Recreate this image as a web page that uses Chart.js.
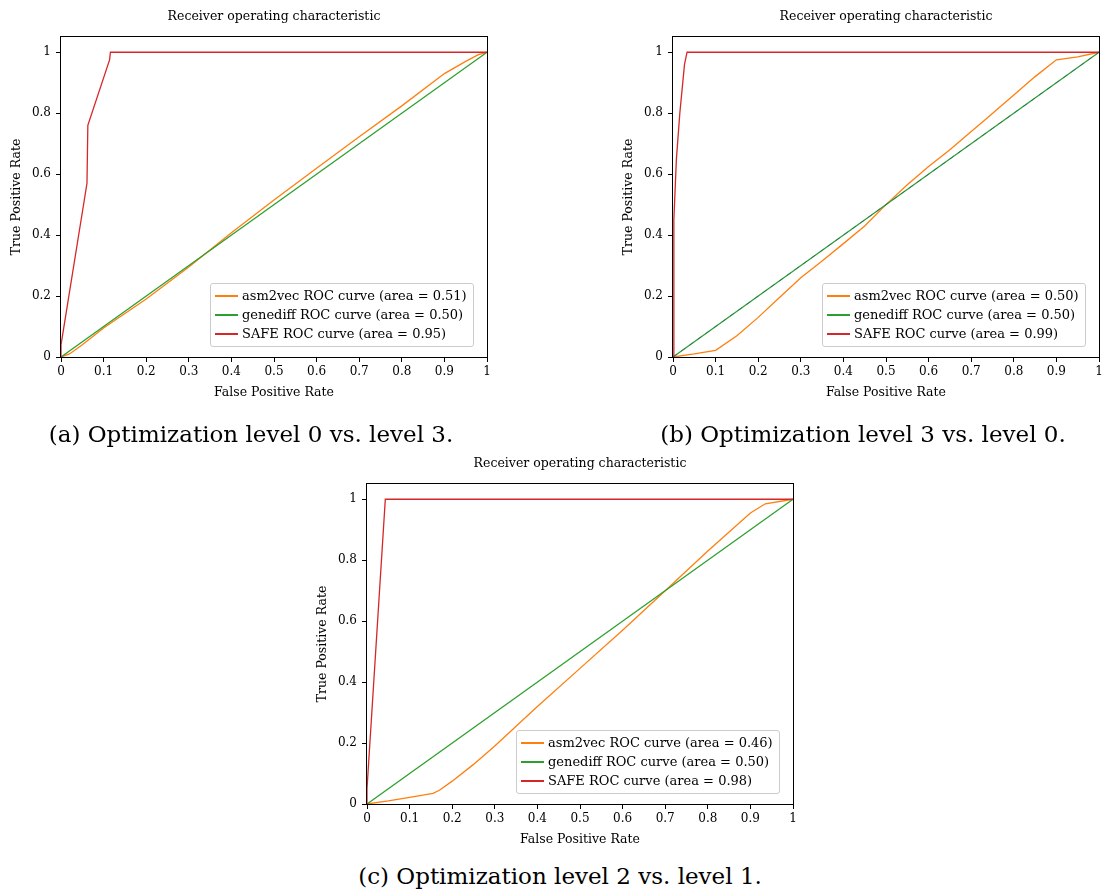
<!DOCTYPE html>
<html><head><meta charset="utf-8">
<script src="https://cdn.jsdelivr.net/npm/chart.js@4.4.0/dist/chart.umd.min.js"></script>
<style>
html,body{margin:0;padding:0;background:#fff;overflow:hidden;width:1102px;height:895px;position:relative;}
.wrap{position:absolute;width:500px;height:405px;}
.wrap canvas{position:absolute;left:0;top:0;}
.legend{position:absolute;border:1px solid #cccccc;border-radius:3px;background:rgba(255,255,255,0.8);padding:2px 6px 3px 4px;font-family:'DejaVu Serif';font-size:13px;color:#000;white-space:nowrap;}
.legend .row{height:19px;line-height:19px;display:flex;align-items:flex-start;}
.legend .sw{display:block;flex:none;width:23px;height:2px;margin-top:9px;margin-right:4px;}
.caption{position:absolute;font-family:'DejaVu Serif';font-size:23px;line-height:28px;color:#000;white-space:nowrap;transform:translateX(-50%);}
</style></head>
<body>
<div class="wrap" id="wa" style="left:0px;top:0px"><canvas id="ca" width="500" height="405"></canvas></div>
<div class="wrap" id="wb" style="left:612px;top:0px"><canvas id="cb" width="500" height="405"></canvas></div>
<div class="wrap" id="wc" style="left:306px;top:447px"><canvas id="cc" width="500" height="405"></canvas></div>
<div class="caption" style="left:251px;top:420px">(a) Optimization level 0 vs. level 3.</div>
<div class="caption" style="left:863px;top:420px">(b) Optimization level 3 vs. level 0.</div>
<div class="caption" style="left:560px;top:862px">(c) Optimization level 2 vs. level 1.</div>
<script>
// ---- data ----
const seriesNames = ['asm2vec', 'genediff', 'SAFE'];
const seriesColors = ['#ff7f0e', '#2ca02c', '#d62728'];
const chartTitle = 'Receiver operating characteristic';
const xAxisTitle = 'False Positive Rate';
const yAxisTitle = 'True Positive Rate';
const xTickValues = [0, 0.1, 0.2, 0.3, 0.4, 0.5, 0.6, 0.7, 0.8, 0.9, 1];
const xTickLabels = ['0', '0.1', '0.2', '0.3', '0.4', '0.5', '0.6', '0.7', '0.8', '0.9', '1'];
const yTickValues = [0, 0.2, 0.4, 0.6, 0.8, 1];
const yTickLabels = ['0', '0.2', '0.4', '0.6', '0.8', '1'];

// (a) level 0 vs level 3
const aucA = ['0.51', '0.50', '0.95'];
const asm2vecFprA = [0, 0.02, 0.05, 0.1, 0.2, 0.3, 0.4, 0.5, 0.6, 0.7, 0.8, 0.9, 0.95, 0.98, 1];
const asm2vecTprA = [0, 0.01, 0.04, 0.095, 0.19, 0.295, 0.408, 0.515, 0.619, 0.723, 0.824, 0.93, 0.97, 0.992, 1];
const genediffFprA = [0, 1];
const genediffTprA = [0, 1];
const safeFprA = [0, 0, 0.061, 0.063, 0.114, 0.116, 1];
const safeTprA = [0, 0.04, 0.57, 0.76, 0.975, 1, 1];

// (b) level 3 vs level 0
const aucB = ['0.50', '0.50', '0.99'];
const asm2vecFprB = [0, 0.05, 0.1, 0.15, 0.2, 0.25, 0.3, 0.35, 0.4, 0.45, 0.5, 0.55, 0.6, 0.65, 0.7, 0.73, 0.8, 0.85, 0.9, 0.95, 1];
const asm2vecTprB = [0, 0.01, 0.022, 0.07, 0.13, 0.195, 0.26, 0.315, 0.372, 0.43, 0.5, 0.565, 0.625, 0.68, 0.74, 0.775, 0.86, 0.92, 0.975, 0.985, 1];
const genediffFprB = [0, 1];
const genediffTprB = [0, 1];
const safeFprB = [0, 0.002, 0.008, 0.016, 0.027, 0.033, 1];
const safeTprB = [0, 0.45, 0.65, 0.8, 0.96, 1, 1];
const chanceFprB = [0, 1];
const chanceTprB = [0, 1];

// (c) level 2 vs level 1
const aucC = ['0.46', '0.50', '0.98'];
const asm2vecFprC = [0, 0.05, 0.1, 0.155, 0.17, 0.2, 0.25, 0.3, 0.35, 0.4, 0.5, 0.6, 0.7, 0.8, 0.9, 0.935, 1];
const asm2vecTprC = [0, 0.01, 0.022, 0.035, 0.045, 0.075, 0.13, 0.19, 0.255, 0.32, 0.445, 0.57, 0.7, 0.83, 0.955, 0.985, 1];
const genediffFprC = [0, 1];
const genediffTprC = [0, 1];
const safeFprC = [0, 0, 0.043, 1];
const safeTprC = [0, 0.05, 1, 1];

// ---- rendering ----
Chart.defaults.font.family = "'DejaVu Serif'";
Chart.defaults.color = '#000';

const pts = (xs, ys) => xs.map((x, i) => ({x: x, y: ys[i]}));

const framePlugin = {
  id: 'frame',
  afterDatasetsDraw(chart) {
    const {ctx, chartArea: a} = chart;
    ctx.save();
    ctx.strokeStyle = '#000';
    ctx.lineWidth = 1;
    ctx.strokeRect(Math.round(a.left) - 0.5, Math.round(a.top) - 0.5,
      Math.round(a.right - a.left) + 1, Math.round(a.bottom - a.top) + 1);
    ctx.restore();
  }
};

function makeChart(canvasId, wrapId, curves, aucs, extra) {
  const datasets = curves.map((c, i) => ({
    label: seriesNames[i] + ' ROC curve (area = ' + aucs[i] + ')',
    data: pts(c[0], c[1]),
    borderColor: seriesColors[i],
    backgroundColor: seriesColors[i],
    borderWidth: 1.3,
    pointRadius: 0,
    tension: 0,
    fill: false,
    order: 2 - i,
    isSeries: true
  }));
  if (extra) {
    datasets.push({
      label: 'chance',
      data: pts(extra[0], extra[1]),
      borderColor: 'rgba(31,80,140,0.55)',
      borderDash: [5, 5],
      borderWidth: 1,
      pointRadius: 0,
      fill: false,
      order: -1,
      isSeries: false
    });
  }
  const chart = new Chart(document.getElementById(canvasId), {
    type: 'line',
    data: {datasets: datasets},
    plugins: [framePlugin],
    options: {
      responsive: false,
      animation: false,
      events: [],
      layout: {padding: {left: 0, right: 13, top: 0, bottom: 0}},
      plugins: {
        legend: {display: false},
        tooltip: {enabled: false},
        title: {
          display: true, text: chartTitle, fullSize: false,
          font: {size: 12.5, weight: 'normal'}, color: '#000',
          padding: {top: 9.5, bottom: 12.5}
        }
      },
      scales: {
        x: {
          type: 'linear', min: 0, max: 1,
          afterBuildTicks: s => { s.ticks = xTickValues.map(v => ({value: v})); },
          afterFit: s => { s.height = 48; },
          grid: {display: true, drawOnChartArea: false, drawTicks: true, tickLength: 5, tickColor: '#000', tickWidth: 1},
          border: {display: false},
          ticks: {callback: (v, i) => xTickLabels[i], padding: 3, color: '#000', font: {size: 12}, maxRotation: 0, autoSkip: false},
          title: {display: true, text: xAxisTitle, color: '#000', font: {size: 12.5}, padding: {top: 0, bottom: 4.5}}
        },
        y: {
          type: 'linear', min: 0, max: 1.05,
          afterBuildTicks: s => { s.ticks = yTickValues.map(v => ({value: v})); },
          afterFit: s => { s.width = 61; },
          grid: {display: true, drawOnChartArea: false, drawTicks: true, tickLength: 5, tickColor: '#000', tickWidth: 1},
          border: {display: false},
          ticks: {callback: (v, i) => yTickLabels[i], padding: 5, color: '#000', font: {size: 12}, autoSkip: false},
          title: {display: true, text: yAxisTitle, color: '#000', font: {size: 12.5}, padding: {top: 9.5, bottom: 0}}
        }
      }
    }
  });
  // legend (HTML, real text) built from the chart's datasets, placed at lower right of plot area
  const wrap = document.getElementById(wrapId);
  const lg = document.createElement('div');
  lg.className = 'legend';
  chart.data.datasets.filter(d => d.isSeries).forEach(d => {
    const row = document.createElement('div');
    row.className = 'row';
    const sw = document.createElement('span');
    sw.className = 'sw';
    sw.style.backgroundColor = d.borderColor;
    row.appendChild(sw);
    const tx = document.createElement('span');
    tx.textContent = d.label;
    row.appendChild(tx);
    lg.appendChild(row);
  });
  wrap.appendChild(lg);
  const a = chart.chartArea;
  lg.style.left = Math.round(a.right - 13 - lg.offsetWidth) + 'px';
  lg.style.top = Math.round(a.bottom - 10 - lg.offsetHeight) + 'px';
  return chart;
}

makeChart('ca', 'wa', [[asm2vecFprA, asm2vecTprA], [genediffFprA, genediffTprA], [safeFprA, safeTprA]], aucA, null);
makeChart('cb', 'wb', [[asm2vecFprB, asm2vecTprB], [genediffFprB, genediffTprB], [safeFprB, safeTprB]], aucB, [chanceFprB, chanceTprB]);
makeChart('cc', 'wc', [[asm2vecFprC, asm2vecTprC], [genediffFprC, genediffTprC], [safeFprC, safeTprC]], aucC, null);
</script>
</body></html>
